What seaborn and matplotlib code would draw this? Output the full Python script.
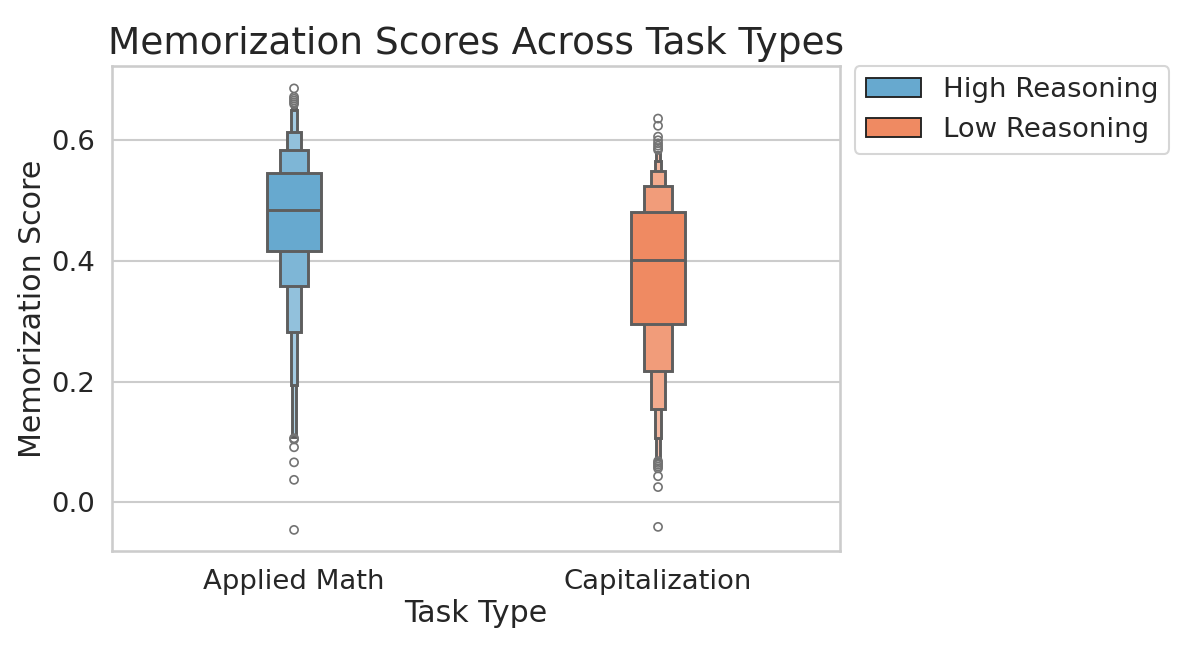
import pandas as pd
import matplotlib.pyplot as plt
import matplotlib.colors as mcolors
from matplotlib.patches import Patch
import seaborn as sns
import numpy as np

tasks = ['Applied Math', 'Capitalization']
reasoning = ['High Reasoning', 'Low Reasoning']
palette = {'High Reasoning': '#67a9cf', 'Low Reasoning': '#ef8a62'}

# letter values, level 1 = quartile box
math_lower = [0.417, 0.358, 0.282, 0.194, 0.108]
math_upper = [0.545, 0.584, 0.614, 0.650, 0.656]
math_median = 0.484
math_outliers = [0.686, 0.672, 0.669, 0.666, 0.663, 0.660,
                 0.106, 0.104, 0.091, 0.066, 0.037, -0.046]

cap_lower = [0.295, 0.217, 0.154, 0.107, 0.072]
cap_upper = [0.481, 0.524, 0.549, 0.565, 0.581]
cap_median = 0.401
cap_outliers = [0.636, 0.624, 0.606, 0.600, 0.595, 0.591, 0.587, 0.584,
                0.068, 0.065, 0.062, 0.059, 0.056, 0.043, 0.025, -0.041]

lower = [math_lower, cap_lower]
upper = [math_upper, cap_upper]
medians = [math_median, cap_median]

outlier_df = pd.DataFrame({
    'Task Type': ['Applied Math'] * len(math_outliers) + ['Capitalization'] * len(cap_outliers),
    'Memorization Score': math_outliers + cap_outliers,
})

sns.set_theme(style='whitegrid', font_scale=1.2)

fig = plt.figure(figsize=(1187 / 150, 648 / 150), dpi=150)
ax = fig.add_axes([0.0944, 0.1497, 0.7077 - 0.0944, 0.898 - 0.1497])

# outliers (hollow grey circles)
sns.stripplot(data=outlier_df, x='Task Type', y='Memorization Score', order=tasks,
              jitter=False, color='.45', size=3.9, linewidth=0.8, ax=ax, zorder=4)
for coll in ax.collections:
    coll.set_facecolor('none')
    coll.set_edgecolor('.45')

box_width = 0.15
line_color = '#5e5e5e'
lighten = [0.0, 0.15, 0.28, 0.40, 0.50]

for i, task in enumerate(tasks):
    base = np.array(mcolors.to_rgb(palette[reasoning[i]]))
    lo = np.array(lower[i])
    hi = np.array(upper[i])
    n = len(lo)
    widths = box_width * 0.5 ** np.arange(n)
    cols = [tuple(base + (1 - base) * f) for f in lighten[:n]]
    # outermost (narrowest) first so wider boxes cover them
    for k in range(n - 1, -1, -1):
        ax.bar(i, hi[k] - lo[k], bottom=lo[k], width=widths[k], color=cols[k],
               edgecolor=line_color, linewidth=1.4, zorder=2)
    ax.plot([i - box_width / 2, i + box_width / 2], [medians[i], medians[i]],
            color=line_color, linewidth=1.4, zorder=3, solid_capstyle='butt')

ax.set_xlim(-0.5, 1.5)
ax.set_ylim(-0.081, 0.723)
ax.set_yticks([0.0, 0.2, 0.4, 0.6])
ax.set_xticks(range(len(tasks)))
ax.set_xticklabels(tasks)
ax.tick_params(axis='y', pad=2)
ax.tick_params(axis='x', pad=2.5)
ax.xaxis.grid(False)
ax.set_xlabel('Task Type', labelpad=2)
ax.set_ylabel('Memorization Score', labelpad=2)
ax.set_title('Memorization Scores Across Task Types', fontsize=18)

handles = [Patch(facecolor=palette[r], edgecolor='#222222', linewidth=0.9, label=r)
           for r in reasoning]
ax.legend(handles=handles, loc='upper left', bbox_to_anchor=(1.02, 1.0),
          borderaxespad=0)

fig.savefig('out.png', dpi=150)
